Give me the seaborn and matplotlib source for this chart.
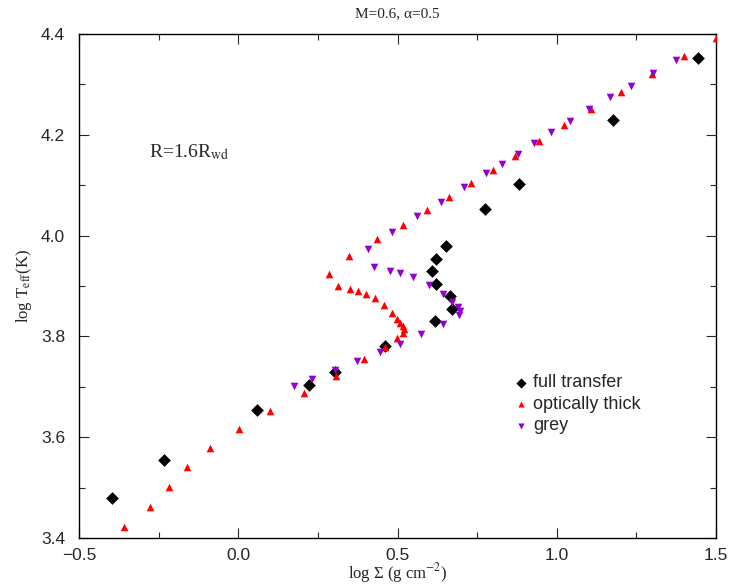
import numpy as np
import pandas as pd
import matplotlib
matplotlib.use("Agg")
import matplotlib.pyplot as plt
import seaborn as sns
from matplotlib.ticker import MultipleLocator

# full transfer (black diamonds)
full_x = [-0.396, -0.233, 0.059, 0.222, 0.304, 0.461, 0.618, 0.670, 0.664, 0.620,
          0.608, 0.620, 0.652, 0.775, 0.883, 1.178, 1.442]
full_y = [3.479, 3.555, 3.654, 3.704, 3.729, 3.781, 3.831, 3.854, 3.881, 3.904,
          3.929, 3.954, 3.979, 4.053, 4.103, 4.229, 4.353]

# optically thick (red up triangles)
thick_x = [-0.358, -0.277, -0.216, -0.161, -0.088, 0.002, 0.101, 0.205, 0.306, 0.395,
           0.461, 0.498, 0.518, 0.521, 0.516, 0.508, 0.498, 0.484, 0.459, 0.429,
           0.400, 0.375, 0.350, 0.313, 0.284, 0.349, 0.436, 0.516, 0.593, 0.663,
           0.731, 0.799, 0.869, 0.944, 1.023, 1.108, 1.202, 1.300, 1.400, 1.500]
thick_y = [3.422, 3.461, 3.501, 3.540, 3.578, 3.616, 3.653, 3.688, 3.721, 3.755,
           3.780, 3.797, 3.807, 3.814, 3.821, 3.827, 3.834, 3.847, 3.863, 3.876,
           3.885, 3.891, 3.894, 3.901, 3.923, 3.960, 3.993, 4.022, 4.050, 4.077,
           4.104, 4.131, 4.159, 4.188, 4.219, 4.251, 4.286, 4.321, 4.357, 4.392]

# grey (purple down triangles)
grey_x = [0.176, 0.231, 0.305, 0.374, 0.446, 0.508, 0.574, 0.642, 0.692, 0.696,
          0.691, 0.672, 0.644, 0.598, 0.548, 0.508, 0.476, 0.425, 0.408, 0.482,
          0.561, 0.637, 0.708, 0.778, 0.827, 0.877, 0.929, 0.983, 1.041, 1.101,
          1.166, 1.233, 1.301, 1.374]
grey_y = [3.702, 3.716, 3.733, 3.751, 3.770, 3.786, 3.804, 3.825, 3.843, 3.851,
          3.858, 3.868, 3.884, 3.903, 3.918, 3.925, 3.930, 3.938, 3.974, 4.008,
          4.039, 4.067, 4.097, 4.124, 4.143, 4.163, 4.183, 4.205, 4.227, 4.251,
          4.275, 4.298, 4.323, 4.348]

sns.set_style("ticks")
plt.rcParams["font.family"] = ["Liberation Sans", "DejaVu Sans"]
plt.rcParams["mathtext.fontset"] = "stix"
serif = ["Liberation Serif", "DejaVu Serif"]

fig = plt.figure(figsize=(7.33, 5.88), dpi=100)
ax = fig.add_axes([0.1078, 0.085, 0.869, 0.857])

sns.scatterplot(x=full_x, y=full_y, marker="D", color="black", s=42,
                linewidth=0, label="full transfer", ax=ax, zorder=3)
sns.scatterplot(x=thick_x, y=thick_y, marker="^", color="#ff0000", s=30,
                linewidth=0, label="optically thick", ax=ax, zorder=4)
sns.scatterplot(x=grey_x, y=grey_y, marker="v", color="#9400d3", s=30,
                linewidth=0, label="grey", ax=ax, zorder=5)

ax.set_xlim(-0.5, 1.5)
ax.set_ylim(3.4, 4.4)
ax.xaxis.set_major_locator(MultipleLocator(0.5))
ax.xaxis.set_minor_locator(MultipleLocator(0.25))
ax.yaxis.set_major_locator(MultipleLocator(0.2))
ax.yaxis.set_minor_locator(MultipleLocator(0.1))
ax.tick_params(which="both", direction="in", top=True, right=True,
               labelsize=12.5, width=0.8)
ax.tick_params(axis="x", which="major", length=7, pad=7)
ax.tick_params(axis="y", which="major", length=7, pad=10)
ax.tick_params(which="minor", length=4)
for sp in ax.spines.values():
    sp.set_linewidth(1.0)
    sp.set_color("black")

ax.set_title("M=0.6, α=0.5", family=serif, fontsize=11, pad=12)
ax.set_xlabel("log Σ (g cm$^{-2}$)", family=serif, fontsize=12, labelpad=-1)
ax.set_ylabel(r"log T$_{\rm eff}$(K)", family=serif, fontsize=12, labelpad=5)
ax.text(-0.28, 4.156, r"R=1.6R$_{\rm wd}$", family=serif, fontsize=14)

ax.legend(loc="upper left", bbox_to_anchor=(0.68, 0.325), frameon=False,
          fontsize=13, handlelength=1.0, handletextpad=0.15, labelspacing=0.25,
          borderpad=0, borderaxespad=0, markerscale=0.8)

fig.savefig("out.png", dpi=100)
